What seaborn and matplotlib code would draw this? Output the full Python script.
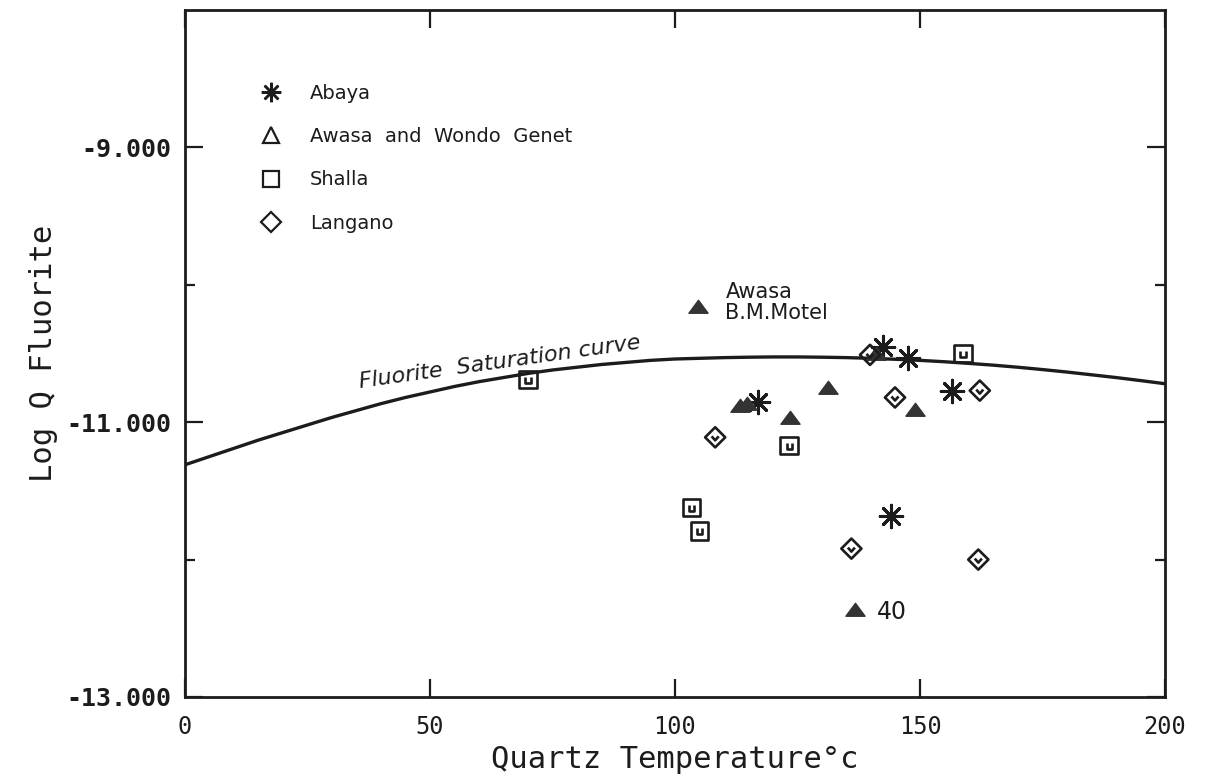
import matplotlib
matplotlib.use("Agg")
import matplotlib.pyplot as plt
from matplotlib.path import Path
from matplotlib.lines import Line2D
from matplotlib.ticker import FixedLocator, FuncFormatter
import pandas as pd
import seaborn as sns

# Fluorite saturation curve: log K versus quartz temperature (every 5 degrees)
curve_temp = [0, 5, 10, 15, 20, 25, 30, 35, 40, 45, 50, 55, 60, 65, 70, 75,
              80, 85, 90, 95, 100, 105, 110, 115, 120, 125, 130, 135, 140,
              145, 150, 155, 160, 165, 170, 175, 180, 185, 190, 195, 200]
curve_logq = [-11.31, -11.25, -11.19, -11.13, -11.075, -11.02, -10.965,
              -10.915, -10.865, -10.82, -10.78, -10.74, -10.705, -10.675,
              -10.645, -10.62, -10.60, -10.58, -10.565, -10.55, -10.54,
              -10.535, -10.53, -10.527, -10.525, -10.525, -10.527, -10.53,
              -10.535, -10.542, -10.55, -10.56, -10.572, -10.585, -10.60,
              -10.617, -10.635, -10.655, -10.675, -10.697, -10.72]

# Thermal waters by area
abaya_temp = [116.9, 142.4, 147.6, 156.5, 144.1]
abaya_logq = [-10.85, -10.45, -10.53, -10.77, -11.68]

awasa_temp = [104.7, 113.3, 114.7, 123.5, 131.2, 141.0, 149.0, 136.7]
awasa_logq = [-10.16, -10.88, -10.87, -10.97, -10.75, -10.50, -10.91, -12.37]

shalla_temp = [70.0, 158.8, 123.3, 103.4, 105.0]
shalla_logq = [-10.69, -10.50, -11.17, -11.62, -11.79]

langano_temp = [108.2, 139.8, 144.9, 162.2, 136.0, 161.9]
langano_logq = [-11.11, -10.51, -10.82, -10.77, -11.92, -12.00]

legend_labels = ["Abaya", "Awasa  and  Wondo  Genet", "Shalla", "Langano"]
x_ticks = [0, 50, 100, 150, 200]
y_major = [-13, -11, -9]
y_minor = [-12, -10]

INK = "#1c1c1c"

# Plotter-style symbols: square with inner "U", diamond with inner "v"
square_u = Path(
    [(-1, -1), (1, -1), (1, 1), (-1, 1), (-1, -1),
     (-0.3, 0.3), (-0.3, -0.4), (0.3, -0.4), (0.3, 0.3)],
    [Path.MOVETO, Path.LINETO, Path.LINETO, Path.LINETO, Path.CLOSEPOLY,
     Path.MOVETO, Path.LINETO, Path.LINETO, Path.LINETO])
diamond_v = Path(
    [(0, 1), (1, 0), (0, -1), (-1, 0), (0, 1),
     (-0.35, 0.1), (0, -0.3), (0.35, 0.1)],
    [Path.MOVETO, Path.LINETO, Path.LINETO, Path.LINETO, Path.CLOSEPOLY,
     Path.MOVETO, Path.LINETO, Path.LINETO])
triangle = Path(
    [(0, 0.75), (1, -0.6), (-1, -0.6), (0, 0.75)],
    [Path.MOVETO, Path.LINETO, Path.LINETO, Path.CLOSEPOLY])

sns.set_theme(style="white")
plt.rcParams["font.family"] = ["DejaVu Sans"]

fig = plt.figure(figsize=(12.05, 7.81), dpi=100)
fig.patch.set_facecolor("white")
ax = fig.add_axes([185 / 1205, 1 - 697 / 781, 980 / 1205, 687 / 781])

sns.lineplot(x=curve_temp, y=curve_logq, color=INK, linewidth=2.4, ax=ax)

sns.scatterplot(data=pd.DataFrame({"t": abaya_temp, "q": abaya_logq}),
                x="t", y="q", marker=(8, 2, 0), s=260, color=INK,
                edgecolor=INK, linewidth=2.2, ax=ax, zorder=3)
sns.scatterplot(data=pd.DataFrame({"t": awasa_temp, "q": awasa_logq}),
                x="t", y="q", marker=triangle, s=190, color="#333333",
                edgecolor="#333333", linewidth=1.0, ax=ax, zorder=3)
sns.scatterplot(data=pd.DataFrame({"t": shalla_temp, "q": shalla_logq}),
                x="t", y="q", marker=square_u, s=160, color=INK,
                facecolor="none", edgecolor=INK, linewidth=1.9, ax=ax, zorder=3)
sns.scatterplot(data=pd.DataFrame({"t": langano_temp, "q": langano_logq}),
                x="t", y="q", marker=diamond_v, s=210, color=INK,
                facecolor="none", edgecolor=INK, linewidth=1.9, ax=ax, zorder=3)

ax.set_xlim(0, 200)
ax.set_ylim(-13, -8)
ax.xaxis.set_major_locator(FixedLocator(x_ticks))
ax.yaxis.set_major_locator(FixedLocator(y_major))
ax.yaxis.set_minor_locator(FixedLocator(y_minor))
ax.yaxis.set_major_formatter(FuncFormatter(lambda v, p: f"{v:.3f}"))
ax.tick_params(which="both", direction="in", top=True, right=True,
               bottom=True, left=True, color=INK, width=1.6)
ax.tick_params(which="major", length=13)
ax.tick_params(which="minor", length=7)
ax.tick_params(axis="y", which="major", pad=10)
ax.tick_params(axis="x", which="major", pad=13)

for lab in ax.get_yticklabels():
    lab.set_fontfamily("DejaVu Sans Mono")
    lab.set_fontweight("bold")
    lab.set_fontsize(18)
    lab.set_color(INK)
for lab in ax.get_xticklabels():
    lab.set_fontfamily("DejaVu Sans Mono")
    lab.set_fontsize(17)
    lab.set_color(INK)

for sp in ax.spines.values():
    sp.set_color(INK)
    sp.set_linewidth(2.0)

ax.set_xlabel("Quartz Temperature°c", fontfamily="DejaVu Sans Mono",
              fontsize=22, color=INK, labelpad=4)
ax.set_ylabel("Log Q Fluorite", fontfamily="DejaVu Sans Mono",
              fontsize=22, color=INK, labelpad=6)

ax.text(35.7, -10.75, "Fluorite  Saturation curve", rotation=8,
        rotation_mode="anchor", ha="left", va="baseline",
        fontstyle="italic", fontsize=16, color=INK)
ax.text(110.3, -9.98, "Awasa\nB.M.Motel", ha="left", va="top",
        fontsize=15, color=INK, linespacing=1.05)
ax.text(141.2, -12.38, "40", ha="left", va="center", fontsize=17, color=INK)

handles = [
    Line2D([], [], ls="none", marker=(8, 2, 0), ms=14, color=INK, mew=1.8),
    Line2D([], [], ls="none", marker="^", ms=12, mfc="none", mec=INK, mew=1.6),
    Line2D([], [], ls="none", marker="s", ms=11, mfc="none", mec=INK, mew=1.6),
    Line2D([], [], ls="none", marker="D", ms=10, mfc="none", mec=INK, mew=1.6),
]
leg = ax.legend(handles=handles, labels=legend_labels, loc="upper left",
                bbox_to_anchor=(0.060, 0.918), frameon=False, fontsize=14,
                handlelength=1.0, handletextpad=1.5, labelspacing=1.25,
                borderpad=0.4)
for t in leg.get_texts():
    t.set_color(INK)

fig.savefig("out.png", dpi=100, facecolor="white")
